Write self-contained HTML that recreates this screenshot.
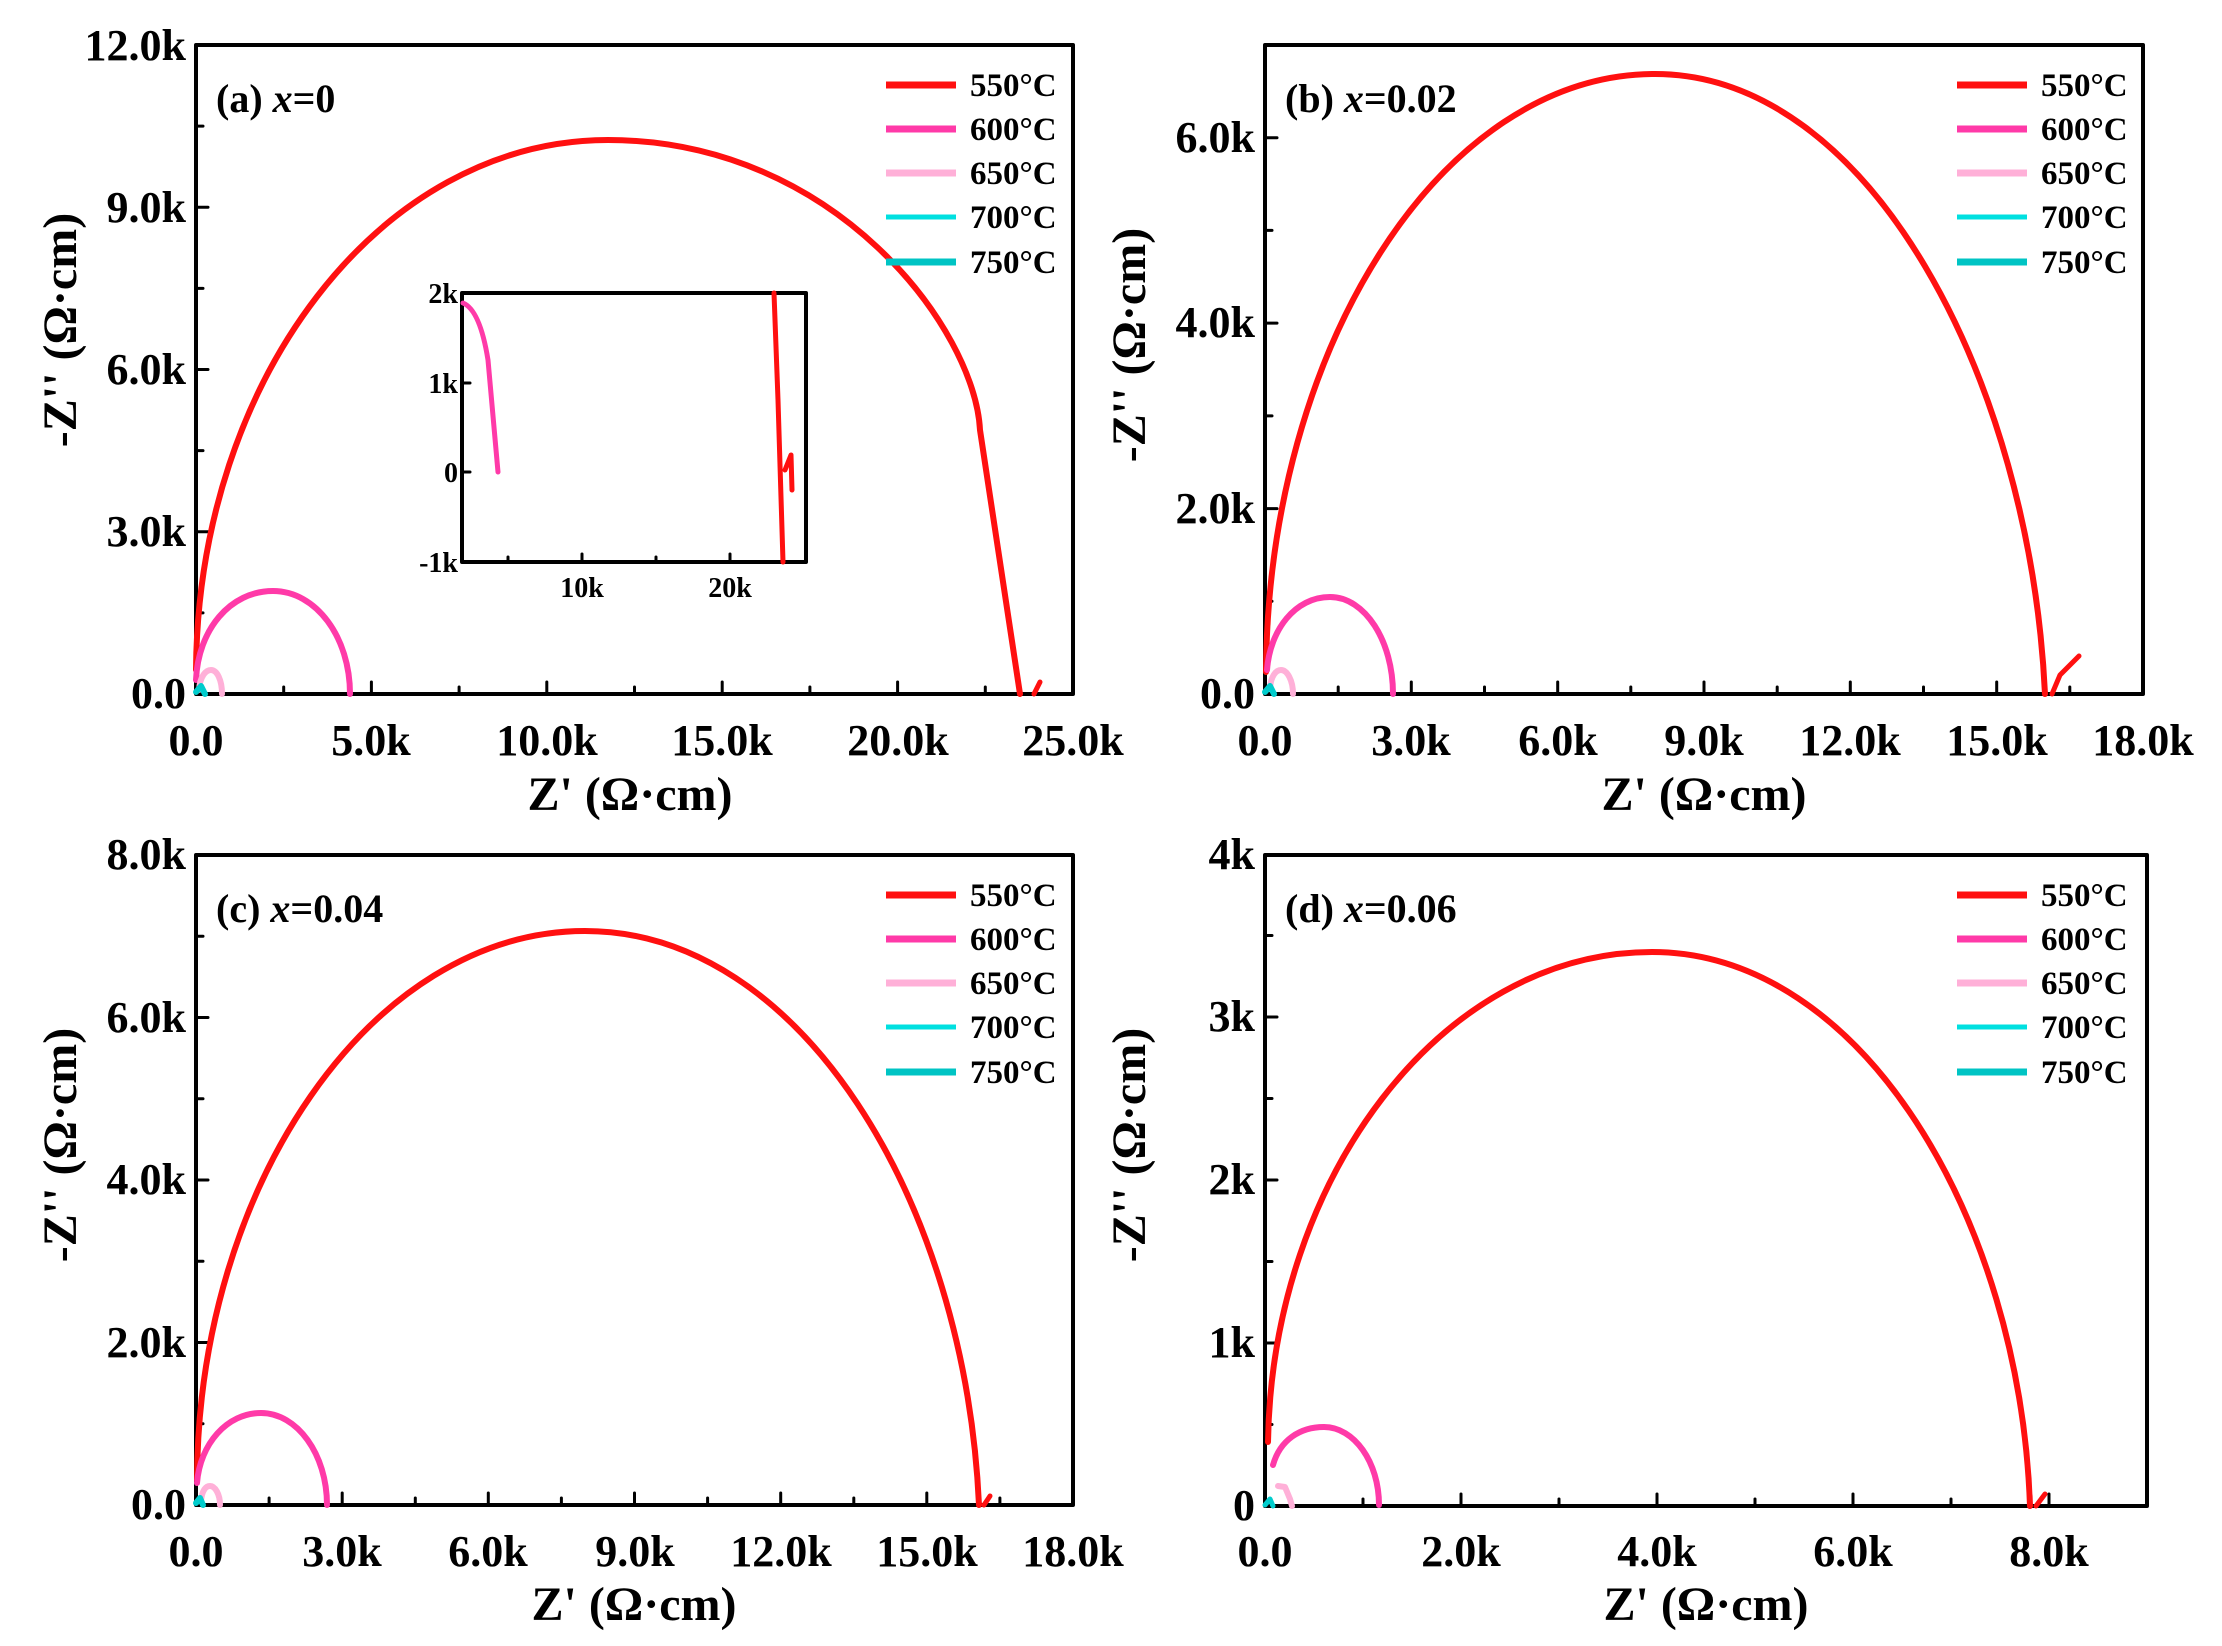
<!DOCTYPE html>
<html><head><meta charset="utf-8"><style>
html,body{margin:0;padding:0;background:#fff;}
svg{display:block;}
text{font-family:"Liberation Serif",serif;font-weight:bold;fill:#000;}
</style></head><body>
<svg width="2222" height="1646" viewBox="0 0 2222 1646" xmlns="http://www.w3.org/2000/svg">
<g fill="none" stroke-linecap="round" stroke-linejoin="round">

<rect x="196" y="45" width="877" height="649" stroke="#000" stroke-width="4"/>
<g stroke="#000" stroke-width="3">
<path d="M196 694v-12M283.7 694v-7M371.4 694v-12M459.1 694v-7M546.8 694v-12M634.5 694v-7M722.2 694v-12M809.9 694v-7M897.6 694v-12M985.3 694v-7"/>
<path d="M196 531.75h12M196 369.5h12M196 207.25h12M196 612.9h7M196 450.6h7M196 288.4h7M196 126.1h7"/>
</g>
<path d="M196 670 C198 380 380 140 608 140 C836 140 975 330 980 430 L1020 694" stroke="#ff1010" stroke-width="6"/>
<path d="M1034 694 L1040 682" stroke="#ff1010" stroke-width="5"/>
<path d="M196 680 C198 630 230 591 273 591 C316 591 350 637 350 694" stroke="#ff3aa8" stroke-width="6"/>
<path d="M199 690 C200 676 206 670 211 670 C217 670 222 680 222 694" stroke="#ffb0d8" stroke-width="6"/>
<path d="M196 692 L201 686 L205 694" stroke="#00cccc" stroke-width="6"/>
<rect x="462" y="293" width="344" height="269" stroke="#000" stroke-width="4" fill="#fff"/>
<g stroke="#000" stroke-width="3"><path d="M462 383h8M462 472h8M582 562v-8M730 562v-8M508 562v-5M656 562v-5"/></g>
<path d="M463 303 Q480 310 488 360 L498 472" stroke="#ff3aa8" stroke-width="5"/>
<path d="M774 293 L778 400 L783 562 M785 470 L791 455 L792 490" stroke="#ff1010" stroke-width="5"/>

<rect x="1265" y="45" width="878" height="649" stroke="#000" stroke-width="4"/>
<g stroke="#000" stroke-width="3">
<path d="M1265 694v-12M1338.2 694v-7M1411.3 694v-12M1484.5 694v-7M1557.7 694v-12M1630.8 694v-7M1704 694v-12M1777.2 694v-7M1850.3 694v-12M1923.5 694v-7M1996.7 694v-12M2069.8 694v-7"/>
<path d="M1265 508.6h12M1265 323.1h12M1265 137.7h12M1265 601.3h7M1265 415.9h7M1265 230.4h7"/>
</g>
<path d="M1266 672 C1268 350 1440 74 1655 74 C1870 74 2030 380 2045 694" stroke="#ff1010" stroke-width="6"/>
<path d="M2052 694 L2060 675 L2079 656" stroke="#ff1010" stroke-width="5"/>
<path d="M1267 670 C1270 630 1295 597 1330 597 C1365 597 1393 641 1393 694" stroke="#ff3aa8" stroke-width="6"/>
<path d="M1270 688 C1271 676 1276 670 1281 670 C1287 670 1293 680 1293 694" stroke="#ffb0d8" stroke-width="6"/>
<path d="M1265 692 L1270 686 L1274 694" stroke="#00cccc" stroke-width="6"/>

<rect x="196" y="855" width="877" height="650" stroke="#000" stroke-width="4"/>
<g stroke="#000" stroke-width="3">
<path d="M196 1505v-12M269.1 1505v-7M342.2 1505v-12M415.3 1505v-7M488.3 1505v-12M561.4 1505v-7M634.5 1505v-12M707.6 1505v-7M780.7 1505v-12M853.8 1505v-7M926.8 1505v-12M999.9 1505v-7"/>
<path d="M196 1342.5h12M196 1180h12M196 1017.5h12M196 1423.8h7M196 1261.3h7M196 1098.8h7M196 936.3h7"/>
</g>
<path d="M197 1480 C198 1188 370 931 585 931 C800 931 965 1200 979 1505" stroke="#ff1010" stroke-width="6"/>
<path d="M984 1505 L990 1496" stroke="#ff1010" stroke-width="5"/>
<path d="M197 1483 C200 1444 227 1413 261 1413 C297 1413 327 1454 327 1505" stroke="#ff3aa8" stroke-width="6"/>
<path d="M201 1501 C202 1490 206 1486 210 1486 C215 1486 220 1494 220 1505" stroke="#ffb0d8" stroke-width="6"/>
<path d="M196 1503 L200 1498 L203 1505" stroke="#00cccc" stroke-width="6"/>

<rect x="1265" y="855" width="882" height="651" stroke="#000" stroke-width="4"/>
<g stroke="#000" stroke-width="3">
<path d="M1265 1506v-12M1363 1506v-7M1461 1506v-12M1559 1506v-7M1657 1506v-12M1755 1506v-7M1853 1506v-12M1951 1506v-7M2049 1506v-12"/>
<path d="M1265 1343h12M1265 1180h12M1265 1017h12M1265 1424.5h7M1265 1261.5h7M1265 1098.5h7M1265 935.5h7"/>
</g>
<path d="M1268 1442 C1272 1180 1440 952 1652 952 C1862 952 2020 1220 2030 1506" stroke="#ff1010" stroke-width="6"/>
<path d="M2036 1506 L2045 1494" stroke="#ff1010" stroke-width="5"/>
<path d="M1273 1465 C1280 1440 1300 1427 1324 1427 C1354 1427 1379 1462 1379 1505" stroke="#ff3aa8" stroke-width="6"/>
<path d="M1278 1486 L1285 1487 L1290 1499 L1292 1506" stroke="#ffb0d8" stroke-width="6"/>
<path d="M1265 1505 L1270 1499 L1273 1506" stroke="#00cccc" stroke-width="5"/>

<g stroke-width="7" stroke-linecap="butt">
<path d="M886 85h70" stroke="#ff1010"/><path d="M886 129h70" stroke="#ff3aa8"/><path d="M886 173h70" stroke="#ffb0d8"/><path d="M886 217h70" stroke="#00e0e0" stroke-width="5"/><path d="M886 262h70" stroke="#00c4c4"/>
<path d="M1957 85h70" stroke="#ff1010"/><path d="M1957 129h70" stroke="#ff3aa8"/><path d="M1957 173h70" stroke="#ffb0d8"/><path d="M1957 217h70" stroke="#00e0e0" stroke-width="5"/><path d="M1957 262h70" stroke="#00c4c4"/>
<path d="M886 895h70" stroke="#ff1010"/><path d="M886 939h70" stroke="#ff3aa8"/><path d="M886 983h70" stroke="#ffb0d8"/><path d="M886 1027h70" stroke="#00e0e0" stroke-width="5"/><path d="M886 1072h70" stroke="#00c4c4"/>
<path d="M1957 895h70" stroke="#ff1010"/><path d="M1957 939h70" stroke="#ff3aa8"/><path d="M1957 983h70" stroke="#ffb0d8"/><path d="M1957 1027h70" stroke="#00e0e0" stroke-width="5"/><path d="M1957 1072h70" stroke="#00c4c4"/>
</g>
</g>

<g font-size="33">
<text x="970" y="96">550°C</text><text x="970" y="140">600°C</text><text x="970" y="184">650°C</text><text x="970" y="228">700°C</text><text x="970" y="273">750°C</text>
<text x="2041" y="96">550°C</text><text x="2041" y="140">600°C</text><text x="2041" y="184">650°C</text><text x="2041" y="228">700°C</text><text x="2041" y="273">750°C</text>
<text x="970" y="906">550°C</text><text x="970" y="950">600°C</text><text x="970" y="994">650°C</text><text x="970" y="1038">700°C</text><text x="970" y="1083">750°C</text>
<text x="2041" y="906">550°C</text><text x="2041" y="950">600°C</text><text x="2041" y="994">650°C</text><text x="2041" y="1038">700°C</text><text x="2041" y="1083">750°C</text>
</g>

<g font-size="40">
<text x="216" y="112">(a)  <tspan font-style="italic">x</tspan>=0</text>
<text x="1285" y="112">(b)  <tspan font-style="italic">x</tspan>=0.02</text>
<text x="216" y="922">(c)  <tspan font-style="italic">x</tspan>=0.04</text>
<text x="1285" y="922">(d)  <tspan font-style="italic">x</tspan>=0.06</text>
</g>

<g font-size="28" text-anchor="end">
<text x="458" y="303">2k</text><text x="458" y="393">1k</text><text x="458" y="482">0</text><text x="458" y="572">-1k</text>
</g>
<g font-size="28" text-anchor="middle"><text x="582" y="597">10k</text><text x="730" y="597">20k</text></g>

<g font-size="44" text-anchor="end">
<text x="186" y="708">0.0</text><text x="186" y="546">3.0k</text><text x="186" y="384">6.0k</text><text x="186" y="222">9.0k</text><text x="186" y="60">12.0k</text>
<text x="1255" y="708">0.0</text><text x="1255" y="523">2.0k</text><text x="1255" y="337">4.0k</text><text x="1255" y="152">6.0k</text>
<text x="186" y="1519">0.0</text><text x="186" y="1357">2.0k</text><text x="186" y="1194">4.0k</text><text x="186" y="1032">6.0k</text><text x="186" y="869">8.0k</text>
<text x="1255" y="1520">0</text><text x="1255" y="1357">1k</text><text x="1255" y="1194">2k</text><text x="1255" y="1031">3k</text><text x="1255" y="869">4k</text>
</g>
<g font-size="44" text-anchor="middle">
<text x="196" y="755">0.0</text><text x="371" y="755">5.0k</text><text x="547" y="755">10.0k</text><text x="722" y="755">15.0k</text><text x="898" y="755">20.0k</text><text x="1073" y="755">25.0k</text>
<text x="1265" y="755">0.0</text><text x="1411" y="755">3.0k</text><text x="1558" y="755">6.0k</text><text x="1704" y="755">9.0k</text><text x="1850" y="755">12.0k</text><text x="1997" y="755">15.0k</text><text x="2143" y="755">18.0k</text>
<text x="196" y="1566">0.0</text><text x="342" y="1566">3.0k</text><text x="488" y="1566">6.0k</text><text x="635" y="1566">9.0k</text><text x="781" y="1566">12.0k</text><text x="927" y="1566">15.0k</text><text x="1073" y="1566">18.0k</text>
<text x="1265" y="1566">0.0</text><text x="1461" y="1566">2.0k</text><text x="1657" y="1566">4.0k</text><text x="1853" y="1566">6.0k</text><text x="2049" y="1566">8.0k</text>
</g>

<g font-size="48" text-anchor="middle">
<text x="630" y="810">Z' (Ω·cm)</text>
<text x="1704" y="810">Z' (Ω·cm)</text>
<text x="634" y="1620">Z' (Ω·cm)</text>
<text x="1706" y="1620">Z' (Ω·cm)</text>
<text transform="translate(76,330) rotate(-90)">-Z'' (Ω·cm)</text>
<text transform="translate(1145,345) rotate(-90)">-Z'' (Ω·cm)</text>
<text transform="translate(76,1145) rotate(-90)">-Z'' (Ω·cm)</text>
<text transform="translate(1145,1145) rotate(-90)">-Z'' (Ω·cm)</text>
</g>
</svg>
</body></html>
